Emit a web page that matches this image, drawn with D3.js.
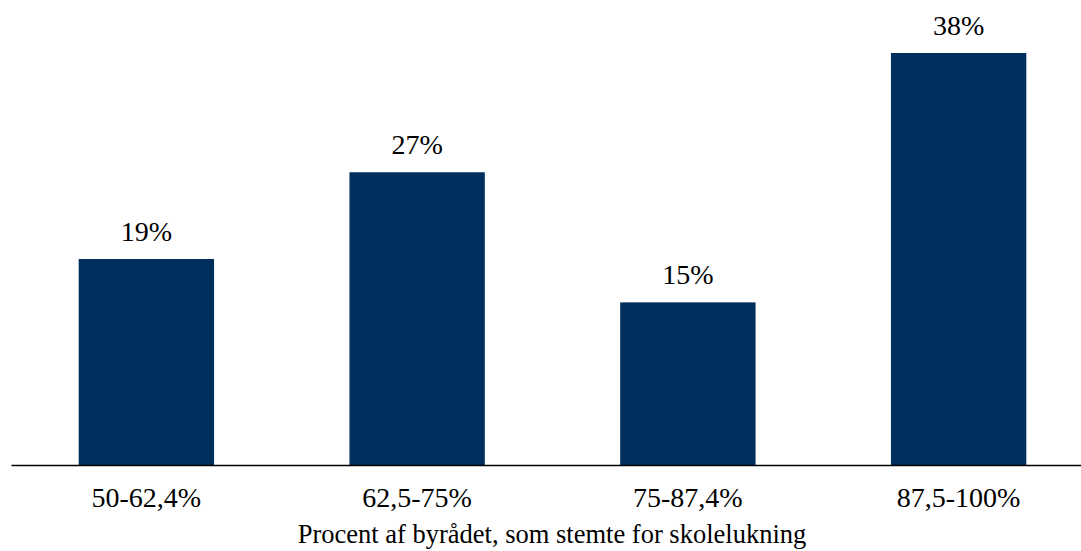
<!DOCTYPE html>
<html>
<head>
<meta charset="utf-8">
<script src="https://cdn.jsdelivr.net/npm/d3@7"></script>
<style>
  html, body { margin: 0; padding: 0; background: #fff; }
  svg { display: block; }
  text { font-family: "Liberation Serif", "Times New Roman", serif; fill: #000; }
</style>
</head>
<body>
<svg id="chart" width="1081" height="551"></svg>
<script>
// Share of cases per group of council vote for school closure
const categories = ["50-62,4%", "62,5-75%", "75-87,4%", "87,5-100%"];
const values = [19, 27, 15, 38];
const valueLabels = ["19%", "27%", "15%", "38%"];
const axisTitle = "Procent af byrådet, som stemte for skolelukning";

const width = 1081, height = 551;
const margin = { left: 11, right: -13, top: 53, bottom: 86 };
const baseY = height - margin.bottom;

const svg = d3.select("#chart");

const x = d3.scaleBand()
  .domain(categories)
  .range([margin.left, width - margin.right])
  .paddingInner(0.5)
  .paddingOuter(0.25);

const y = d3.scaleLinear()
  .domain([0, 38])
  .range([baseY, margin.top]);

// bars
svg.append("g").selectAll("rect")
  .data(values)
  .join("rect")
  .attr("x", (d, i) => x(categories[i]))
  .attr("y", d => y(d))
  .attr("width", x.bandwidth())
  .attr("height", d => baseY - y(d))
  .attr("fill", "#002e5d");

// value labels above bars
svg.append("g").selectAll("text")
  .data(values)
  .join("text")
  .attr("x", (d, i) => x(categories[i]) + x.bandwidth() / 2)
  .attr("y", d => y(d) - 18)
  .attr("text-anchor", "middle")
  .style("font-size", "28px")
  .text((d, i) => valueLabels[i]);

// category axis
const axis = svg.append("g")
  .attr("transform", `translate(0,${baseY})`)
  .call(d3.axisBottom(x).tickSize(0).tickPadding(22));
axis.select(".domain").attr("stroke", "#000").attr("stroke-width", 1.5);
axis.selectAll(".tick text")
  .style("font-size", "28px")
  .style("font-family", "'Liberation Serif', 'Times New Roman', serif")
  .attr("fill", "#000");

// axis title
svg.append("text")
  .attr("x", 552)
  .attr("y", 543)
  .attr("text-anchor", "middle")
  .style("font-size", "26.5px")
  .text(axisTitle);
</script>
</body>
</html>
